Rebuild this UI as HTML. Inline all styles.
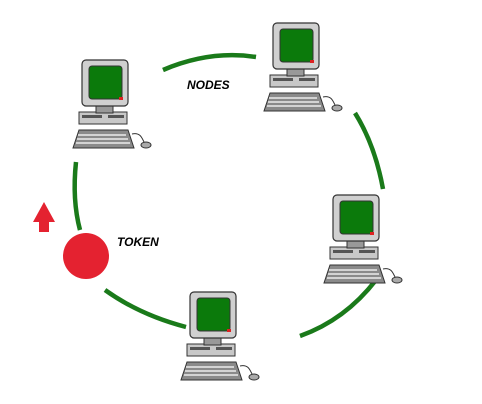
<!DOCTYPE html>
<html><head><style>html,body{margin:0;padding:0;background:#fff;width:482px;height:404px;overflow:hidden}</style></head>
<body>
<svg width="482" height="404" viewBox="0 0 482 404" xmlns="http://www.w3.org/2000/svg">
<defs>
<g id="pc">
  <path d="M-9,88 L52,88 L46,70 L-3,70 Z" fill="#8a8a8a" stroke="#333" stroke-width="1"/>
  <g stroke="#fff" stroke-width="1.2">
    <line x1="-4" y1="75" x2="44" y2="75"/><line x1="-5" y1="79" x2="46" y2="79"/><line x1="-6" y1="83" x2="48" y2="83"/>
  </g>
  <path d="M50,74 C58,72 60,78 62,82" fill="none" stroke="#333" stroke-width="1"/>
  <ellipse cx="64" cy="85" rx="5" ry="3" fill="#aaa" stroke="#333" stroke-width="1"/>
  <rect x="-3" y="52" width="48" height="12" fill="#c8c8c8" stroke="#333" stroke-width="1"/>
  <rect x="0" y="55" width="20" height="3" fill="#555"/>
  <rect x="26" y="55" width="16" height="3" fill="#555"/>
  <rect x="14" y="44" width="17" height="9" fill="#999" stroke="#333" stroke-width="1"/>
  <rect x="0" y="0" width="46" height="46" rx="4" fill="#d0d0d0" stroke="#333" stroke-width="1.2"/>
  <rect x="7" y="6" width="33" height="33" rx="3" fill="#0b7a0b" stroke="#333" stroke-width="1"/>
  <rect x="37" y="37" width="4" height="3" fill="#d22"/>
</g>
</defs>
<g fill="none" stroke="#1a7a1a" stroke-width="4.5">
  <path d="M163,70 Q210,50 256,57"/>
  <path d="M355,113 Q375,145 383,189"/>
  <path d="M376,280 Q345,320 300,336"/>
  <path d="M105,290 Q140,315 186,327"/>
  <path d="M76,162 Q72,200 80,230"/>
</g>
<use href="#pc" x="82" y="60"/>
<use href="#pc" x="273" y="23"/>
<use href="#pc" x="333" y="195"/>
<use href="#pc" x="190" y="292"/>
<path d="M33,222 L44,202 L55,222 L49,222 L49,232 L39,232 L39,222 Z" fill="#e42230"/>
<circle cx="86" cy="256" r="23" fill="#e42230"/>
<text x="187" y="89" font-family="Liberation Sans, sans-serif" font-style="italic" font-weight="bold" font-size="12" fill="#000">NODES</text>
<text x="117" y="246" font-family="Liberation Sans, sans-serif" font-style="italic" font-weight="bold" font-size="12" fill="#000">TOKEN</text>
</svg>
</body></html>
